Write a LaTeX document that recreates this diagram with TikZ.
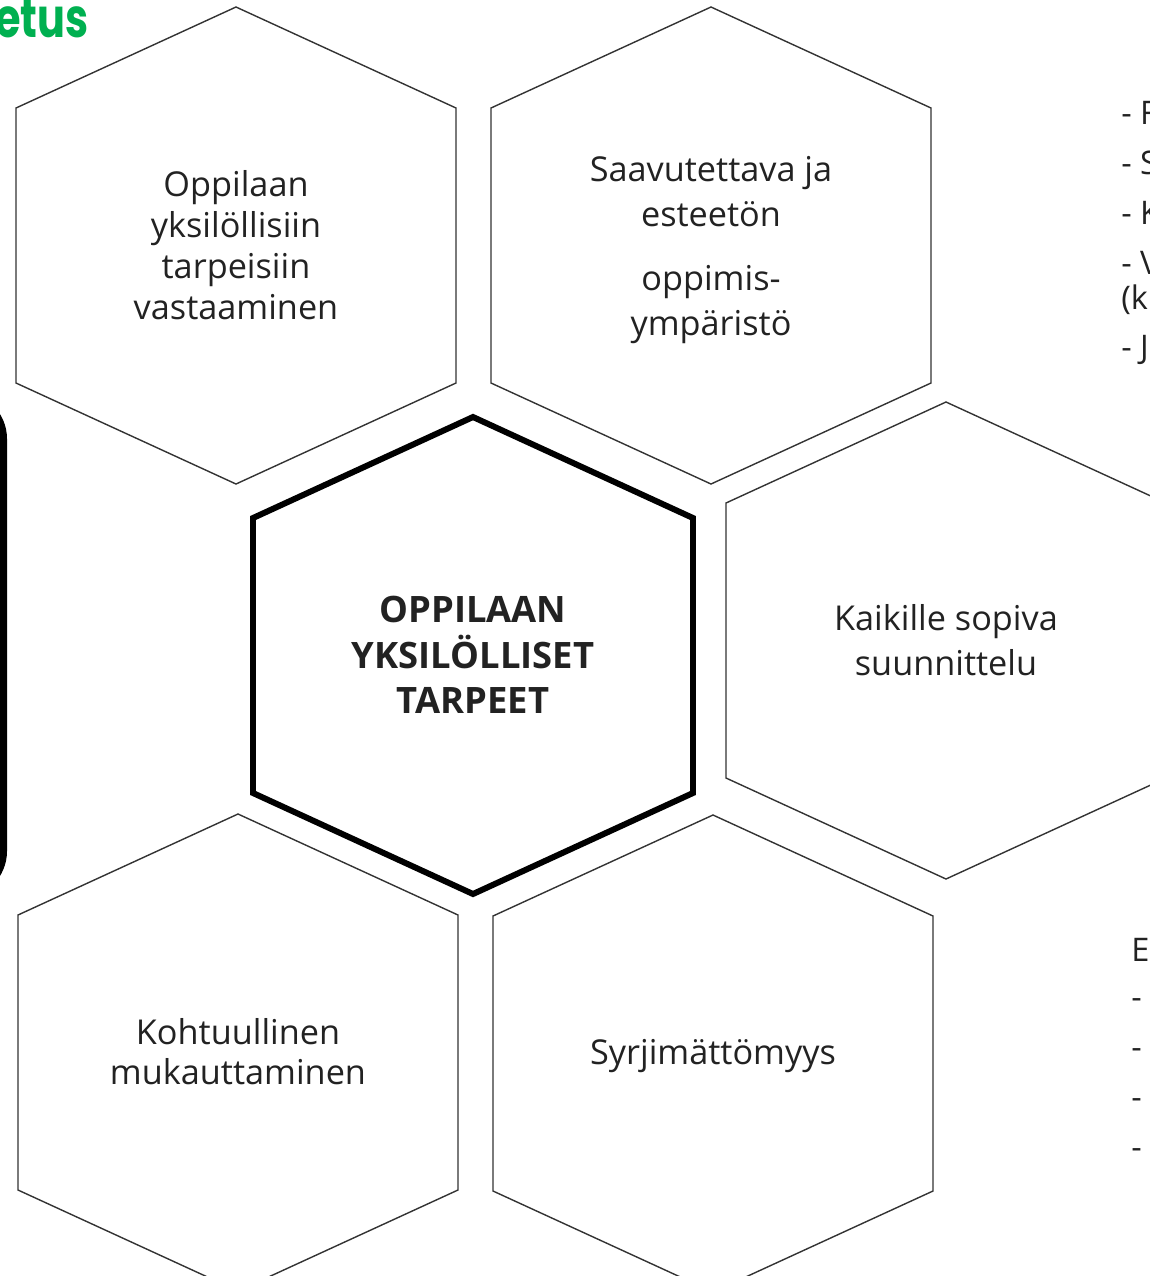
\documentclass[tikz,border=0pt]{standalone}
\usepackage{fontspec}
\setmainfont{Open Sans}
\newfontfamily\titlefont[FakeStretch=0.76]{Poppins}
\definecolor{otsikko}{RGB}{0,176,80}
\definecolor{teksti}{RGB}{34,34,34}
\def\hexcells{%  \xy/\hname/\hstyle/\tstyle/\hlead/\hdy/\htext
  {(236,245)/yks/hexcell/celltext/23.2pt/0/Oppilaan\\yksilöllisiin\\tarpeisiin\\vastaaminen},%
  {(711,245)/est/hexcell/celltext/26pt/5/Saavutettava ja\\esteetön\\[10pt]oppimis-\\ympäristö},%
  {(946,640)/kss/hexcell/celltext/26pt/0/Kaikille sopiva\\suunnittelu},%
  {(238,1052)/koh/hexcell/celltext/22.7pt/0/Kohtuullinen\\mukauttaminen},%
  {(713,1053)/syr/hexcell/celltext/23pt/3/Syrjimättömyys},%
%
  {(473,655)/tarp/hexmid/midtext/26pt/0/OPPILAAN\\YKSILÖLLISET\\TARPEET}%
}
\def\sidenotes{113/- F, 163/- S, 213/- K, 263/- V, 300/(k, 350/- J}
\def\listnotes{950/E, 1004/-, 1054/-, 1104/-, 1154/-}

\begin{document}
\begin{tikzpicture}[x=0.02cm,y=-0.02cm,%
    hexcell/.style={draw=black!80, line width=0.8pt, line join=miter},%
    hexmid/.style={draw=black, line width=3.4pt, line join=miter},%
    celltext/.style={align=center, text=teksti, inner sep=0pt,%
      font=\fontsize{19.5}{\hlead}\selectfont},%
    midtext/.style={align=center, text=teksti, inner sep=0pt,%
      font=\bfseries\fontsize{20.7}{\hlead}\selectfont},%
    sidetext/.style={anchor=west, text=teksti, inner sep=0pt,%
      font=\fontsize{18.5}{22}\selectfont}]

  \useasboundingbox (0,0) rectangle (1150,1276);
  \clip (0,0) rectangle (1150,1276);

  % kennoina piirretyt teemat
  \foreach \xy/\hname/\hstyle/\tstyle/\hlead/\hdy/\htext in \hexcells {%
    \path \xy coordinate (\hname c) ++(0,\hdy) node[\tstyle] (\hname) {\htext};
    \draw[\hstyle] (\hname c) ++(0,-238) -- ++(220,101) -- ++(0,275)%
      -- ++(-220,101) -- ++(-220,-101) -- ++(0,-275) -- cycle;
  }

  % reunaan leikkautuva kehys ja otsikko
  \draw[line width=4pt, rounded corners=25pt] (-300,395) rectangle (3.5,895);
  \node[anchor=base east, text=otsikko, inner sep=0pt,%
    font=\titlefont\bfseries\fontsize{31}{34}\selectfont] (otsikko) at (89,37) {etus};

  % oikean reunan leikkautuneet tekstit
  \foreach \ny/\ntext [count=\i] in \sidenotes {%
    \node[sidetext] (side\i) at (1121,\ny) {\ntext};
  }
  \foreach \ny/\ntext [count=\i] in \listnotes {%
    \node[sidetext] (list\i) at (1131,\ny) {\ntext};
  }

\end{tikzpicture}
\end{document}
